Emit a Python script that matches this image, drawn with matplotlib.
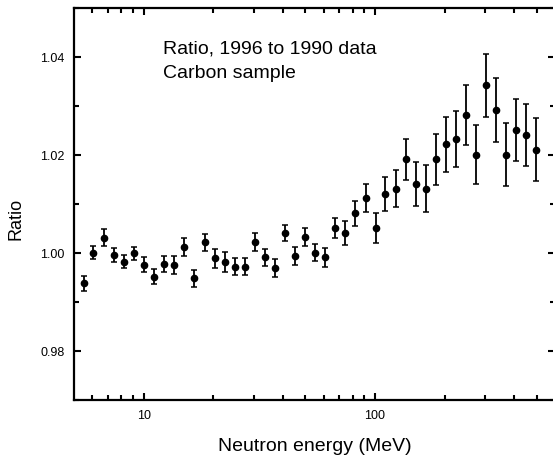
import matplotlib
matplotlib.use("Agg")
from matplotlib import pyplot as plt
from matplotlib.ticker import FixedLocator, NullFormatter, MultipleLocator, FormatStrFormatter

plt.rcParams['font.family'] = ['Liberation Sans', 'DejaVu Sans']

# neutron energy (MeV)
energy = [5.50, 6.07, 6.73, 7.44, 8.22, 9.11, 10.07, 11.13, 12.29, 13.58,
          15.01, 16.58, 18.37, 20.30, 22.42, 24.77, 27.37, 30.32, 33.50, 37.01,
          40.89, 45.19, 49.92, 55.16, 60.74, 67.11, 74.36, 82.19, 91.15, 100.7,
          110.8, 122.9, 135.8, 150.1, 165.8, 183.2, 202.4, 223.7, 247.0, 272.9,
          302.4, 334.1, 369.1, 407.8, 450.6, 497.7]

ratio = [0.9938, 1.0001, 1.0031, 0.9996, 0.9982, 0.9999, 0.9976, 0.9952, 0.9978, 0.9976,
         1.0012, 0.9948, 1.0022, 0.9989, 0.9982, 0.9972, 0.9972, 1.0022, 0.9991, 0.9969,
         1.0041, 0.9994, 1.0032, 1.0001, 0.9991, 1.0051, 1.0041, 1.0081, 1.0112, 1.0051,
         1.0120, 1.0131, 1.0191, 1.0141, 1.0131, 1.0191, 1.0222, 1.0232, 1.0282, 1.0201,
         1.0342, 1.0292, 1.0201, 1.0251, 1.0241, 1.0211]

err = [0.0015, 0.0014, 0.0017, 0.0014, 0.0013, 0.0014, 0.0015, 0.0016, 0.0016, 0.0018,
       0.0018, 0.0018, 0.0017, 0.0020, 0.0020, 0.0017, 0.0017, 0.0018, 0.0017, 0.0018,
       0.0017, 0.0019, 0.0018, 0.0018, 0.0020, 0.0021, 0.0024, 0.0026, 0.0029, 0.0031,
       0.0035, 0.0038, 0.0042, 0.0045, 0.0048, 0.0052, 0.0056, 0.0057, 0.0061, 0.0061,
       0.0065, 0.0065, 0.0065, 0.0064, 0.0063, 0.0065]

fig = plt.figure(figsize=(5.53, 4.61), dpi=100)
ax = fig.add_axes([74/553, 61/461, 481/553, 392/461])

ax.errorbar(energy, ratio, yerr=err, fmt='o', color='black', ms=4.5,
            elinewidth=1.3, capsize=2.5, capthick=1.1)

ax.set_xscale('log')
ax.set_xlim(5, 600)
ax.set_ylim(0.97, 1.05)

ax.xaxis.set_major_locator(FixedLocator([10, 100]))
ax.xaxis.set_major_formatter(FormatStrFormatter('%g'))
minors = [6, 7, 8, 9, 20, 30, 40, 50, 60, 70, 80, 90, 200, 300, 400, 500]
ax.xaxis.set_minor_locator(FixedLocator(minors))
ax.xaxis.set_minor_formatter(NullFormatter())
ax.yaxis.set_major_locator(MultipleLocator(0.02))
ax.yaxis.set_minor_locator(MultipleLocator(0.01))
ax.yaxis.set_major_formatter(FormatStrFormatter('%.2f'))

ax.tick_params(which='both', direction='in', top=True, right=True, width=1.5, labelsize=9)
ax.tick_params(which='major', length=5, pad=7)
ax.tick_params(which='minor', length=3.5)
for s in ax.spines.values():
    s.set_linewidth(1.6)

ax.set_xlabel('Neutron energy (MeV)', fontsize=14)
ax.xaxis.set_label_coords(0.5, -0.097)
ax.set_ylabel('Ratio', fontsize=13)
ax.yaxis.set_label_coords(-0.102, 0.462)

fig.text(163/553, (461-54)/461, 'Ratio, 1996 to 1990 data', fontsize=14, va='baseline')
fig.text(163/553, (461-78)/461, 'Carbon sample', fontsize=14, va='baseline')

plt.savefig('out.png', dpi=100)
